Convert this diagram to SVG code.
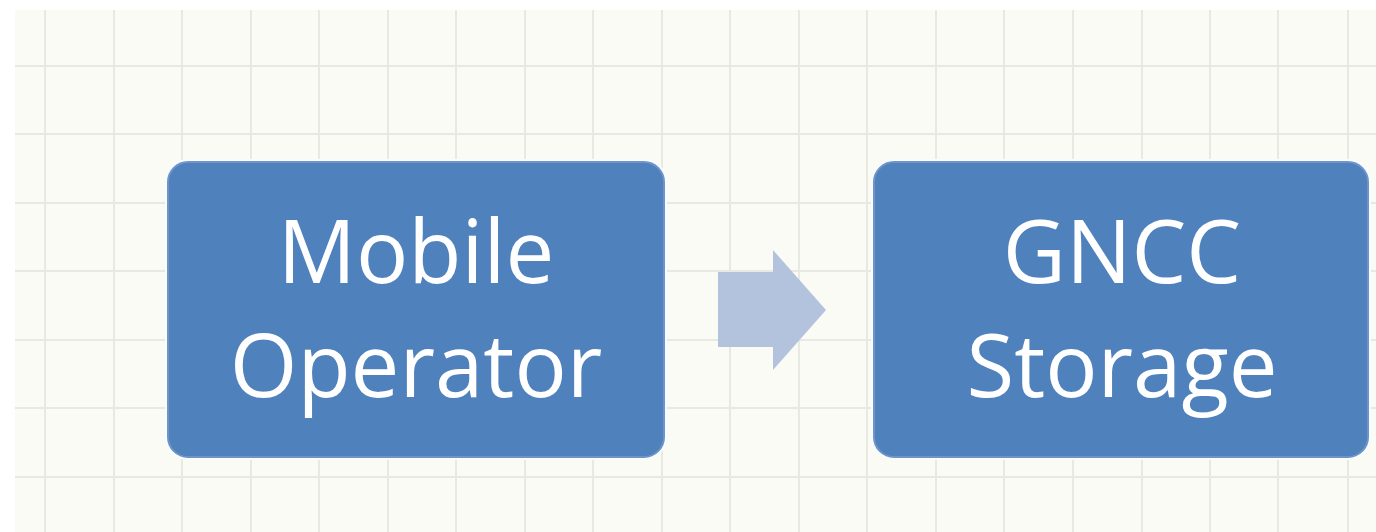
<svg xmlns="http://www.w3.org/2000/svg" width="1376" height="532" viewBox="0 0 1376 532">
<defs>
<style>
.grid line{stroke:#e9e9e3;stroke-width:2}
.halo{fill:none;stroke:#f8fcff;stroke-width:6}
.box{fill:#4f81bd;stroke:#7094c6;stroke-width:2}
.lbl{font-family:"Open Sans","Noto Sans",sans-serif;font-size:87px;fill:#ffffff;text-anchor:middle}
.arrow{fill:#b3c3dd}
</style>
</defs>
<rect x="0" y="0" width="1376" height="532" fill="#ffffff"/>
<rect x="15" y="10" width="1361" height="522" fill="#fbfbf6"/>
<g class="grid" id="grid">
<line x1="45" y1="10" x2="45" y2="532"/>
<line x1="114" y1="10" x2="114" y2="532"/>
<line x1="182" y1="10" x2="182" y2="532"/>
<line x1="251" y1="10" x2="251" y2="532"/>
<line x1="319" y1="10" x2="319" y2="532"/>
<line x1="388" y1="10" x2="388" y2="532"/>
<line x1="456" y1="10" x2="456" y2="532"/>
<line x1="525" y1="10" x2="525" y2="532"/>
<line x1="593" y1="10" x2="593" y2="532"/>
<line x1="662" y1="10" x2="662" y2="532"/>
<line x1="730" y1="10" x2="730" y2="532"/>
<line x1="799" y1="10" x2="799" y2="532"/>
<line x1="867" y1="10" x2="867" y2="532"/>
<line x1="936" y1="10" x2="936" y2="532"/>
<line x1="1004" y1="10" x2="1004" y2="532"/>
<line x1="1073" y1="10" x2="1073" y2="532"/>
<line x1="1142" y1="10" x2="1142" y2="532"/>
<line x1="1210" y1="10" x2="1210" y2="532"/>
<line x1="1278" y1="10" x2="1278" y2="532"/>
<line x1="1348" y1="10" x2="1348" y2="532"/>
<line x1="15" y1="66" x2="1376" y2="66"/>
<line x1="15" y1="134" x2="1376" y2="134"/>
<line x1="15" y1="203" x2="1376" y2="203"/>
<line x1="15" y1="271" x2="1376" y2="271"/>
<line x1="15" y1="340" x2="1376" y2="340"/>
<line x1="15" y1="408" x2="1376" y2="408"/>
<line x1="15" y1="477" x2="1376" y2="477"/>
</g>
<g id="node-mobile-operator">
<rect class="halo" x="168" y="162" width="496" height="295" rx="20"/>
<rect class="box" x="168" y="162" width="496" height="295" rx="20"/>
<text class="lbl" x="416" y="283">Mobile</text>
<text class="lbl" x="416" y="397">Operator</text>
</g>
<g id="node-gncc-storage">
<rect class="halo" x="874" y="162" width="494" height="295" rx="20"/>
<rect class="box" x="874" y="162" width="494" height="295" rx="20"/>
<text class="lbl" x="1122" y="283">GNCC</text>
<text class="lbl" x="1122" y="397">Storage</text>
</g>
<g id="connectors">
<path class="arrow" d="M718,272 H773 V250 L826,310 L773,370 V347 H718 Z"/>
</g>
</svg>
